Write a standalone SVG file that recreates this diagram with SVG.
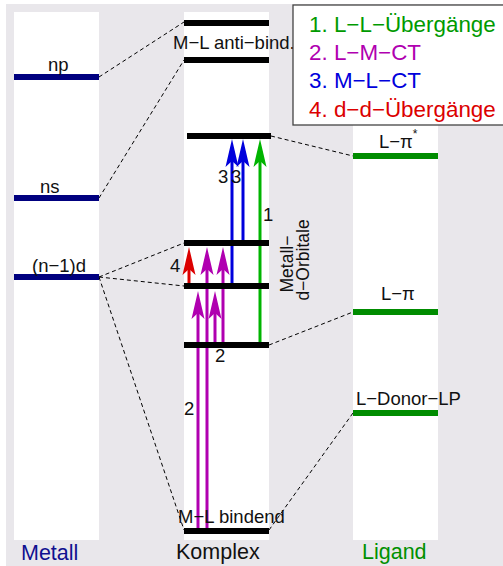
<svg xmlns="http://www.w3.org/2000/svg" width="503" height="566" viewBox="0 0 503 566">
<style>
text{font-family:"Liberation Sans",Arial,sans-serif;}
.lbl{font-size:18.5px;fill:#111;}
.big{font-size:21.5px;}
.leg{font-size:22.4px;}
.col{fill:#ffffff;}
.lvk{fill:#000;}
.lvm{fill:#00007f;}
.lvl{fill:#008c00;}
.dash{stroke:#000;stroke-width:1;stroke-dasharray:4,3;fill:none;}
.am{stroke:#b000b0;stroke-width:3;}
.ab{stroke:#0000dc;stroke-width:3;}
.ar{stroke:#dc0000;stroke-width:3;}
.ag{stroke:#00b400;stroke-width:3;}
</style>
<defs>
<marker id="hm" markerUnits="userSpaceOnUse" viewBox="-8 -8 32 16" markerWidth="32" markerHeight="16" refX="0" refY="0" orient="auto" overflow="visible"><path d="M22,0 L-6,-6.5 L0,0 L-6,6.5 Z" fill="#b000b0"/></marker>
<marker id="hb" markerUnits="userSpaceOnUse" viewBox="-8 -8 32 16" markerWidth="32" markerHeight="16" refX="0" refY="0" orient="auto" overflow="visible"><path d="M22,0 L-6,-6.5 L0,0 L-6,6.5 Z" fill="#0000dc"/></marker>
<marker id="hr" markerUnits="userSpaceOnUse" viewBox="-8 -8 32 16" markerWidth="32" markerHeight="16" refX="0" refY="0" orient="auto" overflow="visible"><path d="M22,0 L-6,-6.5 L0,0 L-6,6.5 Z" fill="#dc0000"/></marker>
<marker id="hg" markerUnits="userSpaceOnUse" viewBox="-8 -8 32 16" markerWidth="32" markerHeight="16" refX="0" refY="0" orient="auto" overflow="visible"><path d="M22,0 L-6,-6.5 L0,0 L-6,6.5 Z" fill="#00b400"/></marker>
</defs>
<rect x="0" y="0" width="503" height="566" fill="#ffffff"/>
<rect x="6" y="4" width="497" height="562" fill="#e9e7eb"/>
<g id="columns">
<rect class="col" x="14" y="12" width="85" height="528"/>
<rect class="col" x="184" y="12" width="85" height="528"/>
<rect class="col" x="353" y="12" width="85" height="528"/>
</g>
<g id="connectors">
<line class="dash" x1="99" y1="77" x2="184" y2="22"/>
<line class="dash" x1="99" y1="198" x2="184" y2="60"/>
<line class="dash" x1="99" y1="277" x2="184" y2="243"/>
<line class="dash" x1="99" y1="277" x2="184" y2="286"/>
<line class="dash" x1="99" y1="277" x2="184" y2="530"/>
<line class="dash" x1="271" y1="136" x2="353" y2="156"/>
<line class="dash" x1="269" y1="345" x2="353" y2="312"/>
<line class="dash" x1="269" y1="530" x2="353" y2="413"/>
<line class="am" x1="198" y1="528" x2="198" y2="313" marker-end="url(#hm)"/>
<line class="am" x1="207" y1="528" x2="207" y2="269" marker-end="url(#hm)"/>
<line class="am" x1="215" y1="342" x2="215" y2="313" marker-end="url(#hm)"/>
<line class="am" x1="223" y1="342" x2="223" y2="269" marker-end="url(#hm)"/>
<line class="ar" x1="189" y1="283" x2="189" y2="269" marker-end="url(#hr)"/>
<line class="ab" x1="232" y1="283" x2="232" y2="161" marker-end="url(#hb)"/>
<line class="ab" x1="243" y1="240" x2="243" y2="161" marker-end="url(#hb)"/>
<line class="ag" x1="260" y1="342" x2="260" y2="161" marker-end="url(#hg)"/>
</g>
<g id="metall">
<rect class="lvm" x="14" y="74" width="85" height="6"/>
<rect class="lvm" x="14" y="195" width="85" height="6"/>
<rect class="lvm" x="14" y="274" width="85" height="6"/>
<text class="lbl" x="48" y="71">np</text>
<text class="lbl" x="40" y="193">ns</text>
<text class="lbl" x="32" y="272">(n−1)d</text>
<text class="big" x="21" y="560" fill="#101090">Metall</text>
</g>
<g id="komplex">
<rect class="lvk" x="184" y="20" width="85" height="6"/>
<rect class="lvk" x="184" y="57" width="85" height="6"/>
<rect class="lvk" x="187" y="133" width="84" height="6"/>
<rect class="lvk" x="184" y="240" width="85" height="6"/>
<rect class="lvk" x="184" y="283" width="85" height="6"/>
<rect class="lvk" x="184" y="342" width="85" height="6"/>
<rect class="lvk" x="184" y="528" width="85" height="6"/>
<text class="lbl" x="173" y="49">M−L anti−bind.</text>
<text class="lbl" x="178" y="523">M−L bindend</text>
<text class="big" x="176" y="559" fill="#111">Komplex</text>
<text style="font-size:17.5px" fill="#111" text-anchor="middle" transform="translate(293,264) rotate(-90)">Metall−</text>
<text style="font-size:17.5px" fill="#111" text-anchor="middle" transform="translate(309,260) rotate(-90)">d−Orbitale</text>
</g>
<g id="transition-labels">
<text class="lbl" x="170" y="272">4</text>
<text class="lbl" x="218" y="183" fill="#0000dc">3</text>
<text class="lbl" x="231" y="183" fill="#0000dc">3</text>
<text class="lbl" x="263" y="221" fill="#00b400">1</text>
<text class="lbl" x="215" y="362" fill="#b000b0">2</text>
<text class="lbl" x="184" y="415" fill="#b000b0">2</text>
</g>
<g id="ligand">
<rect class="lvl" x="353" y="153" width="85" height="6"/>
<rect class="lvl" x="353" y="309" width="85" height="6"/>
<rect class="lvl" x="353" y="410" width="85" height="6"/>
<text class="lbl" x="379" y="148">L−π<tspan dy="-10" font-size="12">*</tspan></text>
<text class="lbl" x="381" y="300">L−π</text>
<text class="lbl" x="356" y="405">L−Donor−LP</text>
<text class="big" x="362" y="559" fill="#009000">Ligand</text>
</g>
<g id="legend">
<rect x="293" y="5" width="215" height="120" fill="#ffffff" stroke="#444" stroke-width="1.3"/>
<text class="leg" x="309" y="32" fill="#009a00">1. L−L−Übergänge</text>
<text class="leg" x="309" y="60" fill="#b000b0">2. L−M−CT</text>
<text class="leg" x="309" y="88" fill="#0000dc">3. M−L−CT</text>
<text class="leg" x="309" y="117" fill="#dc0000">4. d−d−Übergänge</text>
</g>
</svg>
